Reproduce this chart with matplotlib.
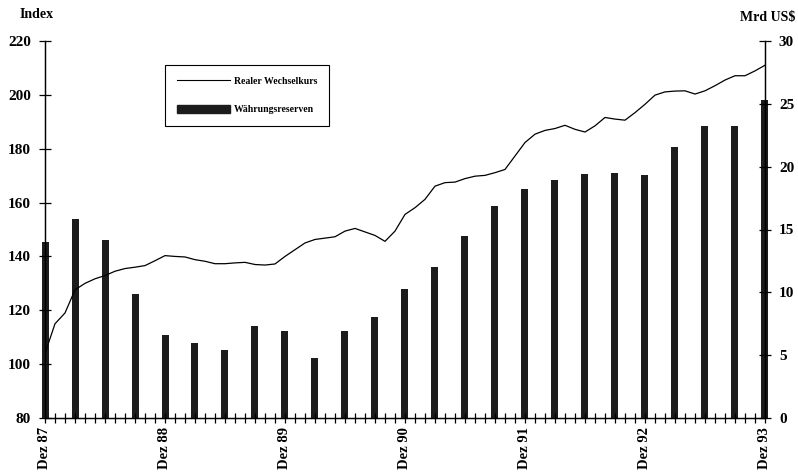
import numpy as np
import matplotlib.pyplot as plt
from matplotlib.lines import Line2D
from matplotlib.patches import Patch

# Realer Wechselkurs (Index), monatlich Dez 87 .. Dez 93
kurs = [104, 115, 119, 127.6, 130, 131.7, 132.9, 134.5, 135.5, 136, 136.6, 138.4,
        140.3, 140, 139.8, 138.8, 138.2, 137.3, 137.3, 137.6, 137.8, 137, 136.8, 137.2,
        140, 142.5, 145, 146.3, 146.8, 147.3, 149.4, 150.4, 149.1, 147.8, 145.6, 149.4,
        155.6, 158.1, 161.2, 166.1, 167.4, 167.6, 168.9, 169.8, 170.1, 171.1, 172.3, 177.3,
        182.3, 185.4, 186.8, 187.5, 188.7, 187.2, 186.2, 188.5, 191.6, 191, 190.6, 193.4,
        196.5, 199.9, 201.1, 201.4, 201.5, 200.3, 201.5, 203.4, 205.5, 207.1, 207.1, 208.9,
        211]
monate = np.arange(len(kurs))

# Waehrungsreserven (Mrd US$), quartalsweise
reserven = [14.0, 15.8, 14.2, 9.9, 6.6, 6.0, 5.4, 7.3, 6.9, 4.8, 6.9, 8.0, 10.3,
            12.0, 14.5, 16.9, 18.2, 18.9, 19.4, 19.5, 19.3, 21.6, 23.2, 23.2, 25.3]
quartale = np.arange(0, 73, 3)

xlabels = ["Dez 87", "Dez 88", "Dez 89", "Dez 90", "Dez 91", "Dez 92", "Dez 93"]

plt.rcParams['font.family'] = ['Liberation Serif', 'DejaVu Serif']
plt.rcParams['font.weight'] = 'bold'

fig = plt.figure(figsize=(7.98, 4.75), dpi=100)
ax = fig.add_axes([45/798, 1-418/475, 720/798, 377/475])
ax2 = ax.twinx()

ax2.bar(quartale, reserven, width=0.7, color='#1c1c1c', clip_on=False)
ax.plot(monate, kurs, color='black', lw=0.9)

# Linie ueber den Balken
ax.set_zorder(ax2.get_zorder() + 1)
ax.patch.set_visible(False)

ax.set_xlim(0, 72)
ax.set_ylim(80, 220)
ax2.set_ylim(0, 30)
ax.set_yticks(np.arange(80, 221, 20))
ax2.set_yticks(np.arange(0, 31, 5))
ax.set_xticks(np.arange(0, 73, 12))
ax.set_xticklabels(xlabels, rotation=90, fontsize=10.5, fontweight='bold')
ax.set_xticks(np.arange(0, 73, 1), minor=True)

for a in (ax, ax2):
    a.spines['top'].set_visible(False)
    for s in a.spines.values():
        s.set_linewidth(0.9)
ax.tick_params(axis='y', direction='inout', length=8, width=0.9, labelsize=11, pad=6)
ax2.tick_params(axis='y', direction='inout', length=8, width=0.9, labelsize=11, pad=6)
ax.tick_params(axis='x', which='both', direction='inout', length=7, width=0.9, pad=3)

fig.text(20/798, 1-14/475, "Index", fontsize=10, fontweight='bold', va='center')
fig.text(795/798, 1-18/475, "Mrd US$", fontsize=10, fontweight='bold', va='center', ha='right')

handles = [Line2D([], [], color='black', lw=0.8), Patch(color='#1c1c1c')]
leg = ax.legend(handles, ["Realer Wechselkurs", "Währungsreserven"],
                loc='upper left', bbox_to_anchor=(0.167, 0.936), borderaxespad=0,
                fancybox=False, edgecolor='black', framealpha=1,
                prop={'size': 7, 'weight': 'bold'},
                handlelength=5.5, handleheight=0.9, labelspacing=1.9, borderpad=1.2,
                handletextpad=0.4)
leg.get_frame().set_linewidth(0.8)

fig.savefig("out.png", dpi=100)
